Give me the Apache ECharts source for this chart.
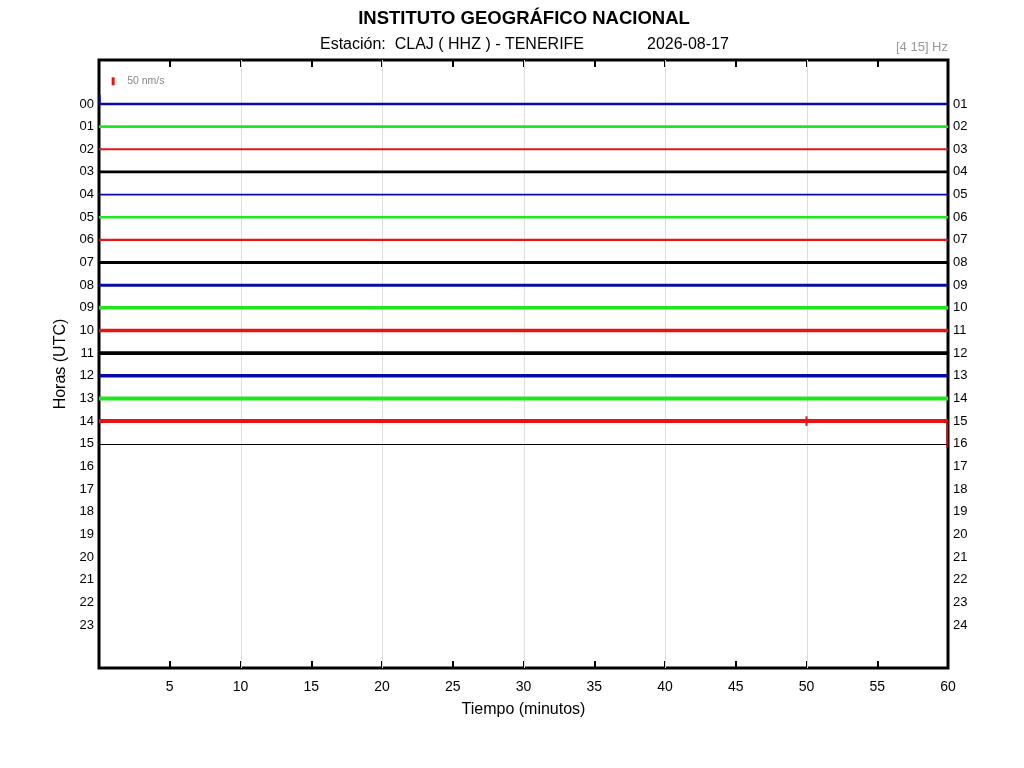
<!DOCTYPE html>
<html>
<head>
<meta charset="utf-8">
<script src="https://cdn.jsdelivr.net/npm/echarts@6/dist/echarts.min.js"></script>
<style>html,body{margin:0;padding:0;background:#fff}#c{width:1024px;height:768px}</style>
</head>
<body>
<div id="c"></div>
<script>
// ---- data ----
var hourRows = [0,1,2,3,4,5,6,7,8,9,10,11,12,13,14,15,16,17,18,19,20,21,22,23];
var leftLabels = ['00','01','02','03','04','05','06','07','08','09','10','11','12','13','14','15','16','17','18','19','20','21','22','23'];
var rightLabels = ['01','02','03','04','05','06','07','08','09','10','11','12','13','14','15','16','17','18','19','20','21','22','23','24'];
var minuteTicks = [5,10,15,20,25,30,35,40,45,50,55,60];
var gridMinutes = [10,20,30,40,50];
// recorded hours and their noise band (peak-to-peak, nm/s)
var traceHours = [0,1,2,3,4,5,6,7,8,9,10,11,12,13,14,15];
var traceAmpNms = [16,16,11,16,11,16,14,19,19,22,22,22,22,25,25,7];
// isolated spikes: hour, minute, upward nm/s, downward nm/s
var spikeHour = [0, 14, 14];
var spikeMinute = [0.05, 50, 59.95];
var spikeUp = [57, 30, 0];
var spikeDown = [0, 30, 166];
var scaleNms = 50;
var nmPerRow = 141.6;

var colors = ['#0a0aa8','#1fe61f','#e81414','#000000'];

var chart = echarts.init(document.getElementById('c'));
var FONT = 'Liberation Sans, Arial, sans-serif';

var traceData = traceHours.map(function(h,i){return [h, traceAmpNms[i]];});
var spikeData = spikeHour.map(function(h,i){return [h, spikeMinute[i], spikeUp[i], spikeDown[i]];});
var gridData = gridMinutes.map(function(m){return [m];});

var YMIN = -1.94, YMAX = 24.9;

chart.setOption({
  animation:false,
  backgroundColor:'#fff',
  grid:{left:99,right:76,top:60,bottom:100,show:true,borderColor:'#000',borderWidth:3,backgroundColor:'transparent'},
  xAxis:[
    {type:'value',min:0,max:60,interval:5,position:'bottom',
     name:'Tiempo (minutos)',nameLocation:'middle',nameGap:34,
     nameTextStyle:{fontFamily:FONT,fontSize:16,color:'#000'},
     axisLine:{show:false,onZero:false},
     axisTick:{show:true,inside:true,length:7,lineStyle:{color:'#000',width:2}},
     axisLabel:{fontFamily:FONT,fontSize:14,color:'#000',margin:12,
       formatter:function(v){return minuteTicks.indexOf(v)>=0?String(v):'';}},
     splitLine:{show:false}},
    {type:'value',min:0,max:60,interval:5,position:'top',
     axisLine:{show:false,onZero:false},
     axisTick:{show:true,inside:true,length:7,lineStyle:{color:'#000',width:2}},
     axisLabel:{show:false},splitLine:{show:false}}
  ],
  yAxis:[
    {type:'value',inverse:true,min:YMIN,max:YMAX,position:'left',
     name:'Horas (UTC)',nameLocation:'middle',nameGap:24,nameRotate:90,
     nameTextStyle:{fontFamily:FONT,fontSize:16,color:'#000'},
     axisLine:{show:false,onZero:false},axisTick:{show:false},splitLine:{show:false},
     axisLabel:{customValues:hourRows,fontFamily:FONT,fontSize:13,color:'#000',margin:5,
       formatter:function(v){return leftLabels[hourRows.indexOf(v)];}}},
    {type:'value',inverse:true,min:YMIN,max:YMAX,position:'right',
     axisLine:{show:false,onZero:false},axisTick:{show:false},splitLine:{show:false},
     axisLabel:{customValues:hourRows,fontFamily:FONT,fontSize:13,color:'#000',margin:5,
       formatter:function(v){return rightLabels[hourRows.indexOf(v)];}}}
  ],
  graphic:[
    {type:'text',x:524,y:9,style:{text:'INSTITUTO GEOGRÁFICO NACIONAL',font:'bold 18.5px '+FONT,fill:'#000',align:'center'}},
    {type:'text',left:320,top:37,style:{text:'Estación:  CLAJ ( HHZ ) - TENERIFE',font:'16px '+FONT,fill:'#000'}},
    {type:'text',left:647,top:37,style:{text:'2026-08-17',font:'16px '+FONT,fill:'#000'}},
    {type:'text',right:76,top:41,style:{text:'[4 15] Hz',font:'13px '+FONT,fill:'#999'}}
  ],
  series:[
    {type:'custom',z:1,xAxisIndex:0,yAxisIndex:0,data:gridData,silent:true,
     renderItem:function(params,api){
       var pa=api.coord([api.value(0),YMIN]), pb=api.coord([api.value(0),YMAX]);
       var x=Math.round(pa[0])+0.5;
       return {type:'line',shape:{x1:x,y1:pa[1],x2:x,y2:pb[1]},style:{stroke:'#dedede',lineWidth:1}};
     }},
    {type:'custom',z:2,xAxisIndex:0,yAxisIndex:0,data:traceData,clip:true,
     renderItem:function(params,api){
       var h=api.value(0), amp=api.value(1);
       var rowPx=api.size([0,1])[1];
       var t=Math.max(1,amp/nmPerRow*rowPx);
       var p0=api.coord([0,h]), p1=api.coord([60,h]);
       var y=p0[1]-t/2;
       if (t<1.5) { y=Math.round(p0[1]); t=1; }
       var idx=traceHours.indexOf(h);
       return {type:'rect',shape:{x:p0[0],y:y,width:p1[0]-p0[0],height:t},
         style:{fill:colors[idx%4]}};
     }},
    {type:'custom',z:3,xAxisIndex:0,yAxisIndex:0,data:spikeData,clip:false,
     renderItem:function(params,api){
       var h=api.value(0), m=api.value(1), up=api.value(2), dn=api.value(3);
       var pa=api.coord([m,h-up/nmPerRow]), pb=api.coord([m,h+dn/nmPerRow]);
       var idx=traceHours.indexOf(h);
       var c = (m>59)?'#b01010':colors[idx%4];
       return {type:'line',shape:{x1:pa[0],y1:pa[1],x2:pb[0],y2:pb[1]},style:{stroke:c,lineWidth:2}};
     }},
    {type:'custom',z:3,xAxisIndex:0,yAxisIndex:0,data:[[scaleNms]],
     renderItem:function(params,api){
       var v=api.value(0);
       var pa=api.coord([1,-1-v/nmPerRow/2]), pb=api.coord([1,-1+v/nmPerRow/2]);
       return {type:'group',children:[
         {type:'rect',shape:{x:pa[0]-1.5,y:pa[1],width:3,height:pb[1]-pa[1]},style:{fill:'#e81414'}},
         {type:'text',x:pa[0]+14,y:(pa[1]+pb[1])/2,style:{text:v+' nm/s',font:'10.5px '+FONT,fill:'#888',verticalAlign:'middle'}}
       ]};
     }}
  ]
});
</script>
</body>
</html>
